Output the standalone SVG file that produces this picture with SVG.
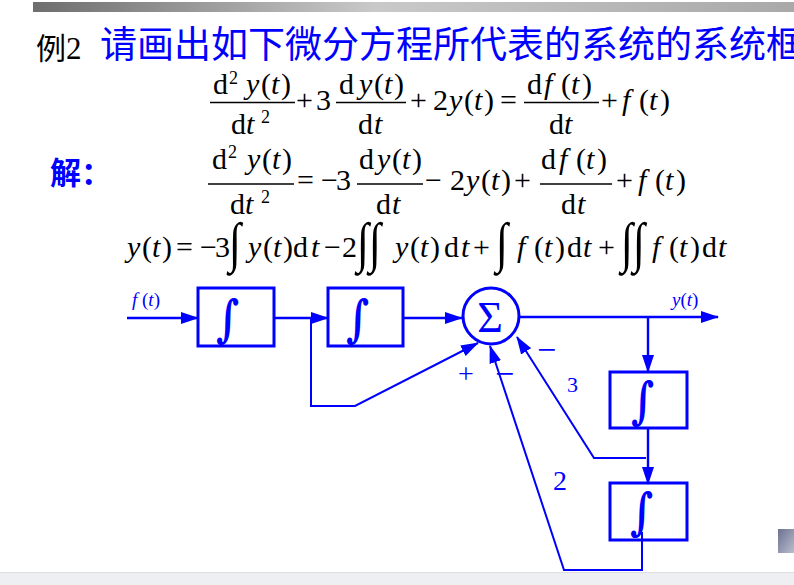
<svg xmlns="http://www.w3.org/2000/svg" width="794" height="585" viewBox="0 0 794 585">
<defs>
<linearGradient id="bar" x1="0" y1="0" x2="1" y2="0">
<stop offset="0" stop-color="#6e6e6e"/>
<stop offset="0.45" stop-color="#c9c9c9"/>
<stop offset="1" stop-color="#a9a9a9"/>
</linearGradient>
<linearGradient id="sq" x1="0" y1="0" x2="1" y2="1">
<stop offset="0" stop-color="#6c7290"/>
<stop offset="1" stop-color="#b9bdd0"/>
</linearGradient>
<marker id="ah" markerUnits="userSpaceOnUse" markerWidth="18" markerHeight="12" refX="17" refY="6" orient="auto">
<path d="M0,0 L18,6 L0,12 z" fill="#0000ff"/>
</marker>
<style>
.m{font-family:"Liberation Serif","Times New Roman",serif;font-size:30px;fill:#000}
.i{font-style:italic}
.s{font-size:18px}
.fl{stroke:#000;stroke-width:1.3}
.big{font-family:"Liberation Serif","Times New Roman",serif;font-size:44px;fill:#000}
.bi{font-family:"DejaVu Serif",serif;font-size:40px;font-weight:bold;fill:#0000ff}
.box{fill:none;stroke:#0000ff;stroke-width:3}
.c{fill:none;stroke:#0000ff;stroke-width:2.4}
.c2{fill:none;stroke:#0000ff;stroke-width:2}
.lab{font-family:"Liberation Serif","Times New Roman",serif;fill:#0000ff}
.cjk{font-family:"Noto Sans CJK SC",sans-serif}
</style>
</defs>
<rect x="0" y="0" width="794" height="585" fill="#fff"/>
<rect x="33" y="2" width="761" height="10" fill="url(#bar)"/>
<rect x="0" y="572" width="794" height="13" fill="#eeeff3"/>
<line x1="0" y1="572.5" x2="794" y2="572.5" stroke="#dddde2" stroke-width="1"/>
<rect x="778" y="529" width="16" height="24" fill="url(#sq)"/>

<text x="36" y="59" class="cjk" style="font-size:30px" fill="#000">例</text>
<text x="66" y="59" font-family="Liberation Serif,serif" style="font-size:31px" fill="#000">2</text>
<text x="100" y="58" class="cjk" style="font-size:37px" fill="#0000ff">请画出如下微分方程所代表的系统的系统框</text>
<text x="50" y="184" class="cjk" style="font-size:31px;font-weight:bold" fill="#0000ff">解：</text>

<!-- Equation 1 -->
<g id="eq1">
<text class="m" x="213" y="94">d</text>
<text class="m s" x="229" y="84">2</text>
<text class="m" x="246 261 271 281" y="94"><tspan class="i">y</tspan>(<tspan class="i">t</tspan>)</text>
<line class="fl" x1="210" y1="102.5" x2="295" y2="102.5"/>
<text class="m" x="231 246" y="134">d<tspan class="i">t</tspan></text>
<text class="m s" x="261" y="123">2</text>
<text class="m" x="296 316" y="110">+3</text>
<text class="m" x="339" y="94">d</text>
<text class="m" x="359 374 384 394" y="94"><tspan class="i">y</tspan>(<tspan class="i">t</tspan>)</text>
<line class="fl" x1="336" y1="102.5" x2="406" y2="102.5"/>
<text class="m" x="358 374" y="134">d<tspan class="i">t</tspan></text>
<text class="m" x="410 433" y="110">+2</text>
<text class="m" x="449 464 474 484" y="110"><tspan class="i">y</tspan>(<tspan class="i">t</tspan>)</text>
<text class="m" x="500" y="110">=</text>
<text class="m" x="527" y="94">d</text>
<text class="m" x="544 561 571 582" y="94"><tspan class="i">f</tspan>(<tspan class="i">t</tspan>)</text>
<line class="fl" x1="524" y1="102.5" x2="599" y2="102.5"/>
<text class="m" x="549 564" y="134">d<tspan class="i">t</tspan></text>
<text class="m" x="601" y="110">+</text>
<text class="m" x="622 639 649 660" y="110"><tspan class="i">f</tspan>(<tspan class="i">t</tspan>)</text>
</g>

<!-- Equation 2 -->
<g id="eq2">
<text class="m" x="212" y="169">d</text>
<text class="m s" x="228" y="158">2</text>
<text class="m" x="247 262 272 282" y="169"><tspan class="i">y</tspan>(<tspan class="i">t</tspan>)</text>
<line class="fl" x1="208" y1="184" x2="294" y2="184"/>
<text class="m" x="230 245" y="214">d<tspan class="i">t</tspan></text>
<text class="m s" x="261" y="203">2</text>
<text class="m" x="297 321 336" y="190">=−3</text>
<text class="m" x="359" y="169">d</text>
<text class="m" x="377 392 402 412" y="169"><tspan class="i">y</tspan>(<tspan class="i">t</tspan>)</text>
<line class="fl" x1="357" y1="184" x2="423" y2="184"/>
<text class="m" x="376 392" y="214">d<tspan class="i">t</tspan></text>
<text class="m" x="425 450" y="190">−2</text>
<text class="m" x="466 481 491 501" y="190"><tspan class="i">y</tspan>(<tspan class="i">t</tspan>)</text>
<text class="m" x="514" y="190">+</text>
<text class="m" x="541" y="169">d</text>
<text class="m" x="559 576 586 597" y="169"><tspan class="i">f</tspan>(<tspan class="i">t</tspan>)</text>
<line class="fl" x1="540" y1="184" x2="612" y2="184"/>
<text class="m" x="561 577" y="214">d<tspan class="i">t</tspan></text>
<text class="m" x="616" y="190">+</text>
<text class="m" x="638 655 665 676" y="190"><tspan class="i">f</tspan>(<tspan class="i">t</tspan>)</text>
</g>

<!-- Equation 3 -->
<g id="eq3">
<text class="m" x="127 142 152 162" y="257"><tspan class="i">y</tspan>(<tspan class="i">t</tspan>)</text>
<text class="m" x="176 200 215" y="257">=−3</text>
<text class="big" transform="translate(229,261) scale(1,1.25)">∫</text>
<text class="m" x="248 263 273 283" y="257"><tspan class="i">y</tspan>(<tspan class="i">t</tspan>)</text>
<text class="m" x="293 311" y="257">d<tspan class="i">t</tspan></text>
<text class="m" x="324 342" y="257">−2</text>
<text class="big" transform="translate(357,261) scale(1,1.25)">∫</text>
<text class="big" transform="translate(369,261) scale(1,1.25)">∫</text>
<text class="m" x="395 410 420 430" y="257"><tspan class="i">y</tspan>(<tspan class="i">t</tspan>)</text>
<text class="m" x="444 461 473" y="257">d<tspan class="i">t</tspan>+</text>
<text class="big" transform="translate(496,261) scale(1,1.25)">∫</text>
<text class="m" x="517 534 544 555" y="257"><tspan class="i">f</tspan>(<tspan class="i">t</tspan>)</text>
<text class="m" x="567 583 598" y="257">d<tspan class="i">t</tspan>+</text>
<text class="big" transform="translate(621,261) scale(1,1.25)">∫</text>
<text class="big" transform="translate(633,261) scale(1,1.25)">∫</text>
<text class="m" x="652 669 679 690" y="257"><tspan class="i">f</tspan>(<tspan class="i">t</tspan>)</text>
<text class="m" x="702 718" y="257">d<tspan class="i">t</tspan></text>
</g>

<!-- Block diagram -->
<text class="lab" x="132" y="306" style="font-size:19px;font-style:italic">f<tspan style="font-style:normal"> (</tspan>t<tspan style="font-style:normal">)</tspan></text>
<text class="lab" x="672" y="306" style="font-size:19px;font-style:italic">y<tspan style="font-style:normal">(</tspan>t<tspan style="font-style:normal">)</tspan></text>

<g id="int1"><rect class="box" x="198" y="288" width="76" height="58"/><text class="bi" transform="translate(216,336) scale(1,1.25)">∫</text></g>
<g id="int2"><rect class="box" x="328" y="288" width="75" height="58"/><text class="bi" transform="translate(346,336) scale(1,1.25)">∫</text></g>
<g id="sum"><circle cx="491" cy="316" r="28" fill="none" stroke="#0000ff" stroke-width="3"/><text x="490" y="332" text-anchor="middle" font-family="Liberation Serif,serif" font-size="44" fill="#0000ff">Σ</text></g>
<g id="int3"><rect class="box" x="610" y="372" width="77" height="56"/><text class="bi" transform="translate(631,418) scale(1,1.25)">∫</text></g>
<g id="int4"><rect class="box" x="610" y="483" width="77" height="57"/><text class="bi" transform="translate(630,529) scale(1,1.25)">∫</text></g>

<g id="connectors">
<line class="c" x1="127" y1="318" x2="198" y2="318" marker-end="url(#ah)"/>
<line class="c" x1="274" y1="318" x2="328" y2="318" marker-end="url(#ah)"/>
<polyline class="c2" points="311,318 311,406 355,406 478,343" marker-end="url(#ah)"/>
<line class="c" x1="403" y1="318" x2="462" y2="318" marker-end="url(#ah)"/>
<line class="c" x1="520" y1="317" x2="718" y2="317" marker-end="url(#ah)"/>
<line class="c" x1="648" y1="317" x2="648" y2="372" marker-end="url(#ah)"/>
<line class="c" x1="648" y1="428" x2="648" y2="484" marker-end="url(#ah)"/>
<polyline class="c2" points="646,458 594,458 517,337" marker-end="url(#ah)"/>
<polyline class="c2" points="642,532 642,570 564,570 490,346" marker-end="url(#ah)"/>
</g>
<text class="lab" x="458" y="383" style="font-size:28px">+</text>
<text class="lab" x="495" y="385" style="font-size:34px">−</text>
<text class="lab" x="537" y="361" style="font-size:34px">−</text>
<text class="lab" x="567" y="392" style="font-size:22px">3</text>
<text class="lab" x="553" y="490" style="font-size:28px">2</text>
</svg>
